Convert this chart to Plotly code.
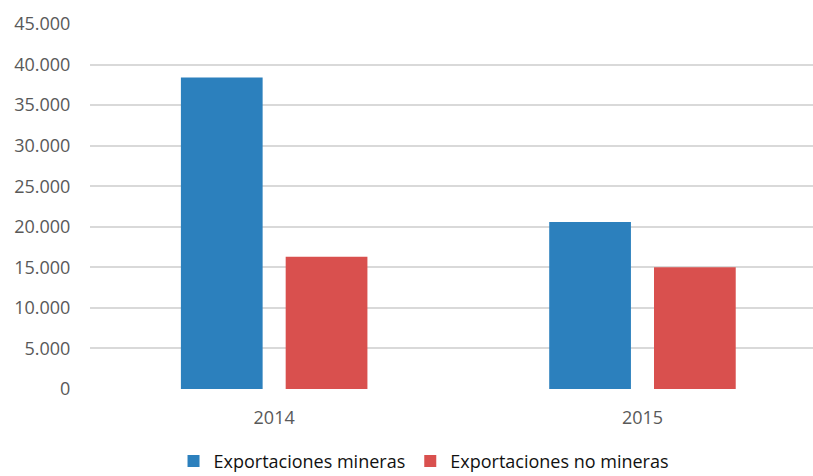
import plotly.graph_objects as go

# Exportaciones por año (millones)
years = ["2014", "2015"]
mineras = [38400, 20600]
no_mineras = [16300, 15000]
tick_vals = [0, 5000, 10000, 15000, 20000, 25000, 30000, 35000, 40000, 45000]
tick_text = ["0", "5.000", "10.000", "15.000", "20.000", "25.000",
             "30.000", "35.000", "40.000", "45.000"]

BLUE = "#2C80BD"
RED = "#D9504E"
TEXT = "#595959"
GRID = "#D9D9D9"

fig = go.Figure()
fig.add_trace(go.Bar(name="Exportaciones mineras", x=[0, 1], y=mineras,
                     marker=dict(color=BLUE, line=dict(width=0))))
fig.add_trace(go.Bar(name="Exportaciones no mineras", x=[0, 1], y=no_mineras,
                     marker=dict(color=RED, line=dict(width=0))))

fig.update_layout(
    width=813, height=476,
    margin=dict(l=90, r=0, t=24, b=87, autoexpand=False),
    paper_bgcolor="white", plot_bgcolor="white",
    barmode="group", bargap=0.431, bargroupgap=0.22,
    font=dict(family="Open Sans", size=18, color=TEXT),
    showlegend=True,
    legend=dict(orientation="h", x=0.462, xanchor="center", y=-0.198, yanchor="middle",
                font=dict(size=18, color="#111111"), itemwidth=30,
                traceorder="normal"),
    xaxis=dict(range=[-0.5, 1.463], tickvals=[0, 1], ticktext=years,
               showgrid=False, zeroline=False, showline=False,
               ticks="outside", ticklen=12, tickcolor="rgba(0,0,0,0)",
               fixedrange=True),
    yaxis=dict(range=[0, 45000], tickvals=tick_vals, ticktext=tick_text,
               showgrid=True, gridcolor=GRID, gridwidth=2,
               zeroline=False, showline=False,
               ticks="outside", ticklen=15, tickcolor="rgba(0,0,0,0)",
               fixedrange=True),
)

fig.write_html("out.html")
